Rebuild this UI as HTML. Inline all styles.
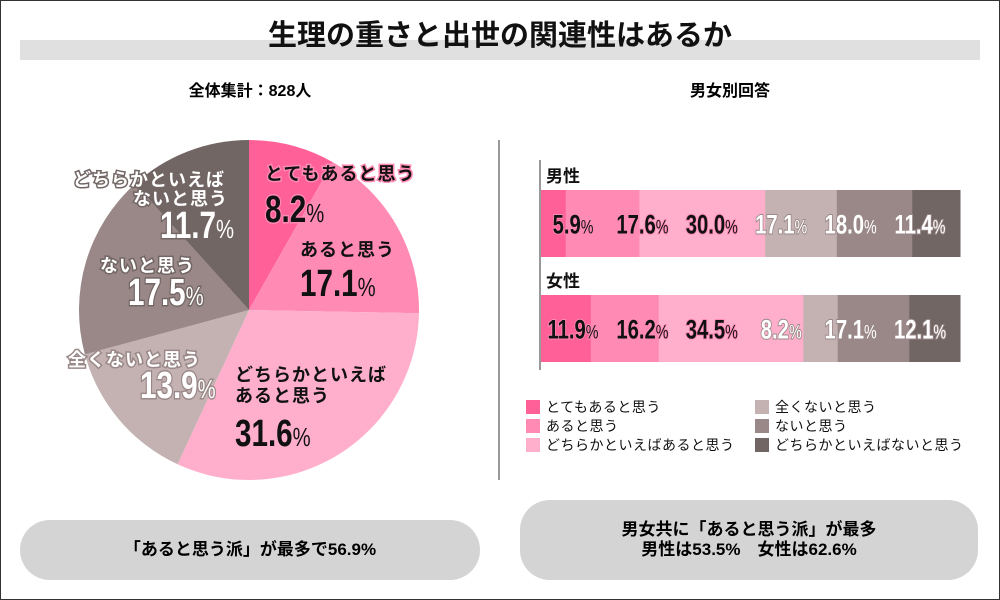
<!DOCTYPE html>
<html><head><meta charset="utf-8">
<style>
body{margin:0;width:1000px;height:600px;background:#fff;font-family:"Liberation Sans","Noto Sans CJK JP",sans-serif;overflow:hidden;position:relative}
.abs{position:absolute}
</style></head><body>
<div class="abs" style="left:0;top:0;width:998px;height:598px;border:1px solid #333"></div>
<div class="abs" style="left:20px;top:40px;width:960px;height:20px;background:#e0e0e0"></div>
<div class="abs" style="left:200px;top:16px;width:600px;text-align:center;font-size:29px;font-weight:bold;line-height:40px;color:#111">生理の重さと出世の関連性はあるか</div>
<div class="abs" style="left:100px;top:77px;width:300px;text-align:center;font-size:16px;font-weight:bold">全体集計：828人</div>
<div class="abs" style="left:600px;top:77px;width:260px;text-align:center;font-size:16px;font-weight:bold">男女別回答</div>
<div class="abs" style="left:498px;top:140px;width:2px;height:340px;background:#999"></div>
<svg id="chart" class="abs" style="left:0;top:0" width="1000" height="600"></svg>
<div class="abs" style="left:20px;top:520px;width:460px;height:60px;border-radius:30px;background:#d4d4d4;text-align:center;line-height:60px;font-size:17px;font-weight:bold">「あると思う派」が最多で56.9%</div>
<div class="abs" style="left:520px;top:500px;width:458px;height:80px;border-radius:30px;background:#d4d4d4;text-align:center;font-size:17px;font-weight:bold;line-height:20px;padding-top:20px;box-sizing:border-box">男女共に「あると思う派」が最多<br>男性は53.5%　女性は62.6%</div>
<script>
const categories=["とてもあると思う","あると思う","どちらかといえばあると思う","全くないと思う","ないと思う","どちらかといえばないと思う"];
const overall=[8.2,17.1,31.6,13.9,17.5,11.7];
const male=[5.9,17.6,30.0,17.1,18.0,11.4];
const female=[11.9,16.2,34.5,8.2,17.1,12.1];
const groups=["男性","女性"];
const colors=["#ff6098","#ff8ab4","#ffafcb","#c4b2b2","#9a8888","#726664"];
const svg=document.getElementById('chart');const NS="http://www.w3.org/2000/svg";
function mk(t,a,txt){const e=document.createElementNS(NS,t);for(const k in a)e.setAttribute(k,a[k]);if(txt!==undefined)e.textContent=txt;svg.appendChild(e);return e;}
const cx=249,cy=310,R=170;const tot=overall.reduce((a,b)=>a+b,0);
let acc=0;
overall.forEach((v,i)=>{const a0=acc/tot*2*Math.PI,a1=(acc+v)/tot*2*Math.PI;acc+=v;
const p=(a)=>[cx+R*Math.sin(a),cy-R*Math.cos(a)];const [x0,y0]=p(a0),[x1,y1]=p(a1);
const s=mk('path',{d:`M${cx},${cy}L${x0},${y0}A${R},${R} 0 ${a1-a0>Math.PI?1:0} 1 ${x1},${y1}Z`,fill:colors[i]});

});
const pieNames=[[["とてもあると思う",265,180]],[["あると思う",300,256]],[["どちらかといえば",235,381],["あると思う",235,402]],[["全くないと思う",68,366]],[["ないと思う",100,272]],[["どちらかといえば",73,186],["ないと思う",133,205]]];
const pieVal=[[265,222],[300,296],[235,446],[140,398],[128,305],[160,238]];
const darkText=[1,1,1,0,0,0];
overall.forEach((v,i)=>{const fill=darkText[i]?"#111":"#fff";
const st=i==0?"#ff8ab4":(darkText[i]?"none":colors[Math.min(i+1,5)]);
pieNames[i].forEach(([ln,x,y])=>{const t=mk('text',{x:x,y:y,'font-size':18,'font-weight':'bold',fill:fill,stroke:st,'stroke-width':3,'paint-order':'stroke','letter-spacing':1},ln);

});
const [x,y]=pieVal[i];
const t2=mk('text',{x:x,y:y,'font-size':38,'font-weight':'bold',fill:fill,stroke:st,'stroke-width':3,'paint-order':'stroke',transform:`translate(${x},0) scale(0.78,1) translate(${-x},0)`},v.toFixed(1));


const tp=document.createElementNS(NS,'tspan');tp.setAttribute('font-size','26');tp.setAttribute('font-weight','normal');tp.textContent='%';t2.appendChild(tp);});
const bx=541,bw=419,bh=67;const rows=[male,female];const by=[190,295];
mk('rect',{x:539,y:160,width:2,height:210,fill:'#999'});
rows.forEach((vals,r)=>{const lb=mk('text',{x:546,y:by[r]-8,'font-size':17,'font-weight':'bold',fill:'#111'},groups[r]);


const s=vals.reduce((a,b)=>a+b,0);let c=0;
vals.forEach((v,i)=>{const x=bx+c/s*bw,w=v/s*bw;c+=v;
const b=mk('rect',{x:x,y:by[r],width:w+0.5,height:bh,fill:colors[i]});

});
vals.forEach((v,i)=>{const lx=573+i*69.4;
const t=mk('text',{x:lx,y:by[r]+bh/2+10,'text-anchor':'middle','font-size':27,'font-weight':'bold',fill:i<3?'#111':'#fff',stroke:i<3?colors[1]:colors[4],'stroke-width':2,'paint-order':'stroke',transform:`translate(${lx},0) scale(0.75,1) translate(${-lx},0)`},v.toFixed(1));


const tp=document.createElementNS(NS,'tspan');tp.setAttribute('font-size','19');tp.setAttribute('font-weight','normal');tp.textContent='%';t.appendChild(tp);});});
categories.forEach((c,i)=>{const col=i<3?0:1;const x=col?755:526,y=400+(i%3)*19;
mk('rect',{x:x,y:y,width:14,height:14,fill:colors[i]});
const t=mk('text',{x:x+20,y:y+12,'font-size':14,fill:'#111','letter-spacing':0.5},c);

});
</script>
</body></html>
